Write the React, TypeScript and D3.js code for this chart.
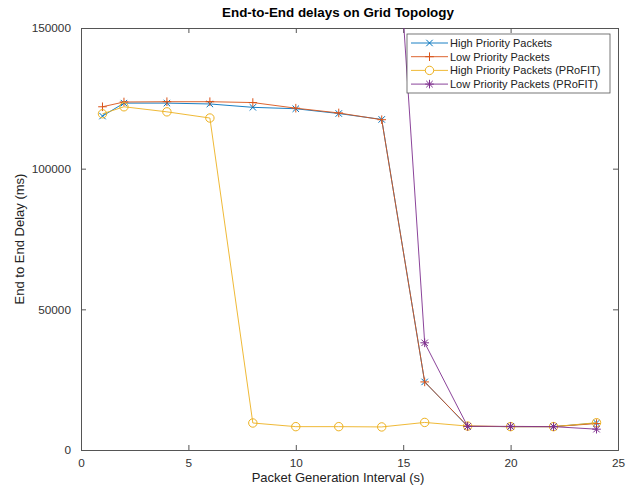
import React, { useEffect, useRef } from 'react';
import * as d3 from 'd3';

const intervals = [1, 2, 4, 6, 8, 10, 12, 14, 16, 18, 20, 22, 24];
const highPriority = [118700, 123300, 123300, 123000, 121800, 121300, 119600, 117500, 24200, 8400, 8300, 8300, 9600];
const lowPriority = [122000, 123700, 123800, 123800, 123500, 121500, 119800, 117400, 24200, 8500, 8300, 8300, 9400];
const highProfit = [119500, 122000, 120200, 118000, 9600, 8300, 8300, 8200, 9800, 8500, 8300, 8300, 9700];
const profitIntervals = [14, 16, 18, 20, 22, 24];
const lowProfit = [270000, 38100, 8400, 8400, 8300, 7400];
const xTicks = [0, 5, 10, 15, 20, 25];
const yTicks = [0, 50000, 100000, 150000];

const seriesNames = ['High Priority Packets', 'Low Priority Packets', 'High Priority Packets (PRoFIT)', 'Low Priority Packets (PRoFIT)'];
const seriesColors = ['#0072BD', '#D95319', '#EDB120', '#7E2F8E'];
const seriesMarkers = ['x', '+', 'o', '*'];

// d3.path methods are not chainable, so build then stringify
function markerPath(kind: string, s: number) {
  const p = d3.path();
  if (kind === 'o') {
    p.moveTo(4.2, 0);
    p.arc(0, 0, 4.2, 0, 2 * Math.PI);
    return p.toString();
  }
  if (kind === 'x' || kind === '*') {
    const d = s * 0.75;
    p.moveTo(-d, -d); p.lineTo(d, d);
    p.moveTo(-d, d); p.lineTo(d, -d);
  }
  if (kind === '+' || kind === '*') {
    p.moveTo(-s, 0); p.lineTo(s, 0);
    p.moveTo(0, -s); p.lineTo(0, s);
  }
  return p.toString();
}

function Chart() {
  const svgRef = useRef(null);

  const margin = { top: 28, right: 15, bottom: 37, left: 81 };
  const width = 633 - margin.left - margin.right;
  const height = 487 - margin.top - margin.bottom;

  useEffect(() => {
    const root = d3.select(svgRef.current);
    root.selectAll('*').remove();

    const x = d3.scaleLinear().domain([0, 25]).range([0, width]);
    const y = d3.scaleLinear().domain([0, 150000]).range([height, 0]);

    root.append('defs').append('clipPath').attr('id', 'plotclip')
      .append('rect').attr('width', width).attr('height', height);

    const svg = root.append('g').attr('transform', `translate(${margin.left},${margin.top})`);

    const axisColor = '#555';
    const textColor = '#333';
    const font = 'Liberation Sans, Arial, sans-serif';

    // axes with inward ticks
    const bottom = svg.append('g').attr('transform', `translate(0,${height})`)
      .call(d3.axisBottom(x).tickValues(xTicks).tickSize(-5).tickPadding(9).tickFormat(d3.format('d')));
    const top = svg.append('g')
      .call(d3.axisTop(x).tickValues(xTicks).tickSize(-5).tickFormat(() => ''));
    const left = svg.append('g')
      .call(d3.axisLeft(y).tickValues(yTicks).tickSize(-5).tickPadding(10).tickFormat(d3.format('d')));
    const right = svg.append('g').attr('transform', `translate(${width},0)`)
      .call(d3.axisRight(y).tickValues(yTicks).tickSize(-5).tickFormat(() => ''));

    [bottom, top, left, right].forEach(g => {
      g.select('.domain').attr('stroke', axisColor);
      g.selectAll('.tick line').attr('stroke', axisColor);
      g.selectAll('.tick text').attr('fill', textColor)
        .style('font-family', font).style('font-size', '11.8px');
    });

    const plot = svg.append('g').attr('clip-path', 'url(#plotclip)');

    const allData = [
      intervals.map((v, i) => [v, highPriority[i]]),
      intervals.map((v, i) => [v, lowPriority[i]]),
      intervals.map((v, i) => [v, highProfit[i]]),
      profitIntervals.map((v, i) => [v, lowProfit[i]]),
    ];

    const line = d3.line<number[]>().x(d => x(d[0])).y(d => y(d[1]));

    allData.forEach((data, k) => {
      plot.append('path')
        .attr('d', line(data))
        .attr('fill', 'none')
        .attr('stroke', seriesColors[k])
        .attr('stroke-width', 0.9);

      plot.selectAll('.m' + k)
        .data(data)
        .enter()
        .append('path')
        .attr('class', 'm' + k)
        .attr('transform', d => `translate(${x(d[0])},${y(d[1])})`)
        .attr('d', markerPath(seriesMarkers[k], 4.3))
        .attr('fill', 'none')
        .attr('stroke', seriesColors[k])
        .attr('stroke-width', 1);
    });

    // legend
    const leg = svg.append('g').attr('transform', `translate(${407 - margin.left},${34 - margin.top})`);
    leg.append('rect').attr('width', 203).attr('height', 59)
      .attr('fill', 'white').attr('stroke', axisColor).attr('stroke-width', 0.8);
    seriesNames.forEach((name, k) => {
      const ly = 9 + k * 13.7;
      leg.append('line').attr('x1', 4).attr('x2', 41).attr('y1', ly).attr('y2', ly)
        .attr('stroke', seriesColors[k]).attr('stroke-width', 0.9);
      leg.append('path')
        .attr('transform', `translate(22.5,${ly})`)
        .attr('d', markerPath(seriesMarkers[k], 4.3))
        .attr('fill', seriesMarkers[k] === 'o' ? 'white' : 'none')
        .attr('stroke', seriesColors[k]);
      leg.append('text').attr('x', 43).attr('y', ly + 4)
        .attr('fill', '#222')
        .style('font-family', font).style('font-size', '11px')
        .text(name);
    });

    // title and labels
    svg.append('text').attr('x', 338 - margin.left).attr('y', 17 - margin.top)
      .attr('text-anchor', 'middle').attr('fill', '#000')
      .style('font-family', font).style('font-size', '13.4px').style('font-weight', 'bold')
      .text('End-to-End delays on Grid Topology');

    svg.append('text').attr('x', 338 - margin.left).attr('y', 482 - margin.top)
      .attr('text-anchor', 'middle').attr('fill', '#222')
      .style('font-family', font).style('font-size', '13px')
      .text('Packet Generation Interval (s)');

    svg.append('text')
      .attr('transform', `translate(${24 - margin.left},${height / 2}) rotate(-90)`)
      .attr('text-anchor', 'middle').attr('fill', '#222')
      .style('font-family', font).style('font-size', '13px')
      .text('End to End Delay (ms)');
  }, []);

  return <svg ref={svgRef} width={633} height={487} style={{ display: 'block' }}></svg>;
}

export default function App() {
  return (
    <div style={{ position: 'absolute', top: 0, left: 0 }}>
      <Chart />
    </div>
  );
}
